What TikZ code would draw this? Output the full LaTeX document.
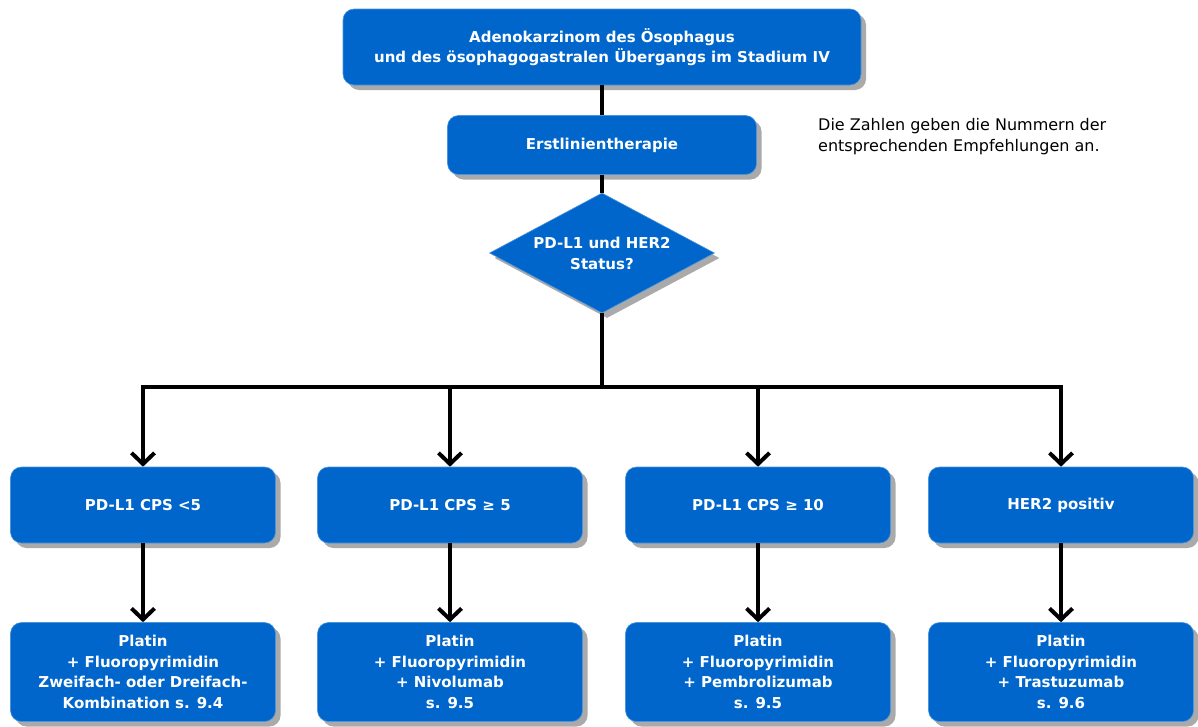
\documentclass[tikz,border=0pt]{standalone}
\usepackage{fontspec}
\setmainfont{DejaVu Sans}
\usetikzlibrary{shapes.geometric,arrows.meta,shadows}
\definecolor{boxblue}{RGB}{0,102,204}
\definecolor{shadowgray}{RGB}{170,170,170}
\begin{document}
\begin{tikzpicture}[x=1pt,y=-1pt,
  box/.style={rectangle, rounded corners=11pt, fill=boxblue, draw=boxblue!70!white, line width=0.6pt,
    text=white, font=\bfseries\fontsize{15}{20.5}\selectfont, align=center, inner sep=0pt,
    drop shadow={shadow xshift=5pt, shadow yshift=-5pt, fill=shadowgray, opacity=1}},
  dia/.style={diamond, aspect=1.875, fill=boxblue, draw=boxblue!70!white, line width=0.6pt, text=white,
    font=\bfseries\fontsize{15}{21}\selectfont, align=center, inner sep=0pt,
    drop shadow={shadow xshift=5pt, shadow yshift=-5pt, fill=shadowgray, opacity=1}},
  conn/.style={line width=4pt, black},
  arr/.style={conn, -{Straight Barb[length=11pt, width=23pt, line width=4pt]}},
  note/.style={font=\fontsize{16}{21}\selectfont, align=left, anchor=north west, inner sep=0pt}
]
\useasboundingbox (0,0) rectangle (1198,726);

\node[box, minimum width=518pt, minimum height=76pt] (top) at (602,47)
  {Adenokarzinom des Ösophagus\\und des ösophagogastralen Übergangs im Stadium IV};
\node[box, minimum width=309pt, minimum height=59pt] (erst) at (602,145) {Erstlinientherapie};
\node[dia, minimum width=225pt, minimum height=120pt] (status) at (602,253) {PD-L1 und HER2\\Status?};

\node[note] (hint) at (818,118) {Die Zahlen geben die Nummern der\\entsprechenden Empfehlungen an.};

\foreach \n/\x/\t in {a/143/{PD-L1 CPS <5}, b/450/{PD-L1 CPS ≥ 5}, c/758/{PD-L1 CPS ≥ 10}, d/1061/{HER2 positiv}} {
  \node[box, minimum width=265pt, minimum height=76pt] (\n1) at (\x,505) {\t};
}
\node[box, minimum width=265pt, minimum height=99pt] (a2) at (143,672)
  {Platin\\+ Fluoropyrimidin\\Zweifach- oder Dreifach-\\Kombination s. 9.4};
\node[box, minimum width=265pt, minimum height=99pt] (b2) at (450,672)
  {Platin\\+ Fluoropyrimidin\\+ Nivolumab\\s. 9.5};
\node[box, minimum width=265pt, minimum height=99pt] (c2) at (758,672)
  {Platin\\+ Fluoropyrimidin\\+ Pembrolizumab\\s. 9.5};
\node[box, minimum width=265pt, minimum height=99pt] (d2) at (1061,672)
  {Platin\\+ Fluoropyrimidin\\+ Trastuzumab\\s. 9.6};

\coordinate (hub) at (602,387);
\draw[conn] (top.south) -- (erst.north);
\draw[conn] (erst.south) -- (status.north);
\draw[conn] (status.south) -- (hub);
\foreach \n in {a,b,c,d} {
  \draw[arr, line join=miter] (hub) -| (\n1.north);
  \draw[arr] (\n1.south) -- (\n2.north);
}
\end{tikzpicture}
\end{document}
